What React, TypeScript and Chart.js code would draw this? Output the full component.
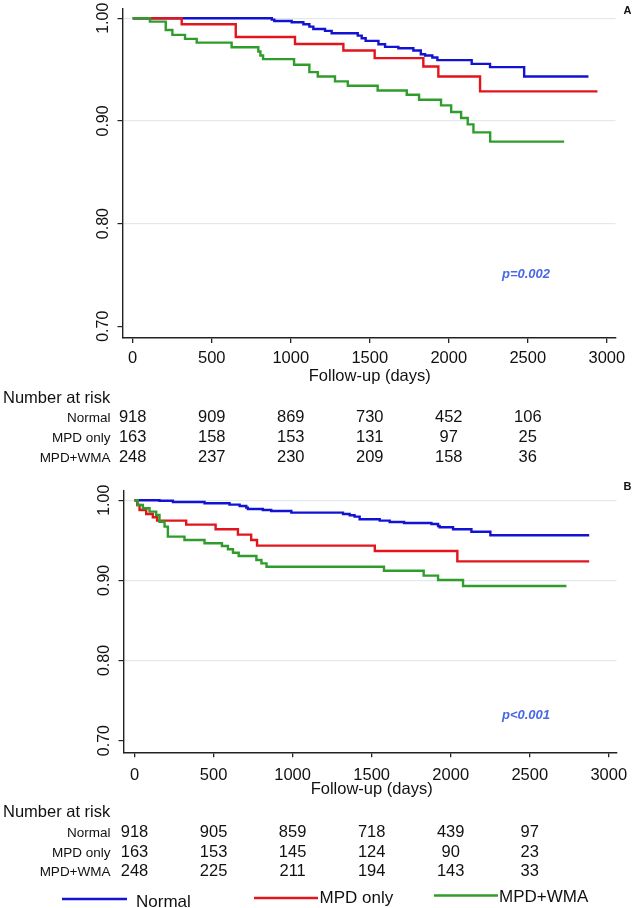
import React, { useEffect, useRef } from 'react';
import { Chart, registerables } from 'chart.js';

Chart.register(...registerables);

// ---------------- data ----------------
const xTicks = [0, 500, 1000, 1500, 2000, 2500, 3000];
const yTicks = [0.7, 0.8, 0.9, 1.0];
const yTickLabels = ['0.70', '0.80', '0.90', '1.00'];
const groups = ['Normal', 'MPD only', 'MPD+WMA'];
const riskTimes = [0, 500, 1000, 1500, 2000, 2500];

// Panel A
const topNormalDays = [0, 880, 896, 1006, 1080, 1118, 1143, 1217, 1259, 1424, 1449, 1474, 1555, 1597, 1681, 1776, 1823, 1850, 1896, 1928, 2145, 2261, 2477, 2884];
const topNormalSurv = [1, 0.9987, 0.9974, 0.9961, 0.9941, 0.9919, 0.9896, 0.9877, 0.9854, 0.9831, 0.9806, 0.978, 0.9747, 0.9721, 0.9708, 0.9686, 0.965, 0.9637, 0.9618, 0.9592, 0.9556, 0.9524, 0.9433, 0.9433];
const topMpdDays = [0, 310, 652, 1027, 1333, 1531, 1839, 1934, 2198, 2941];
const topMpdSurv = [1, 0.9941, 0.9818, 0.975, 0.9686, 0.9612, 0.953, 0.9433, 0.9288, 0.9288];
const topWmaDays = [0, 109, 209, 251, 331, 405, 626, 795, 808, 825, 1021, 1118, 1171, 1280, 1361, 1550, 1734, 1812, 1951, 2015, 2078, 2120, 2156, 2262, 2730];
const topWmaSurv = [1, 0.9967, 0.9886, 0.9838, 0.9799, 0.9763, 0.9718, 0.9676, 0.9637, 0.9602, 0.9547, 0.9475, 0.9433, 0.9385, 0.9343, 0.9297, 0.9255, 0.9207, 0.9152, 0.9087, 0.9029, 0.8967, 0.8889, 0.8799, 0.8799];
const topRiskNormal = [918, 909, 869, 730, 452, 106];
const topRiskMpd = [163, 158, 153, 131, 97, 25];
const topRiskWma = [248, 237, 230, 209, 158, 36];

// Panel B
const botNormalDays = [0, 158, 243, 443, 601, 665, 707, 717, 812, 865, 992, 1319, 1361, 1392, 1424, 1551, 1614, 1705, 1878, 1920, 1930, 2015, 2131, 2251, 2876];
const botNormalSurv = [1, 0.9995, 0.9979, 0.9963, 0.9946, 0.9929, 0.9908, 0.9891, 0.9879, 0.9866, 0.9846, 0.9829, 0.9813, 0.9796, 0.9763, 0.9746, 0.9729, 0.9717, 0.9704, 0.9679, 0.9663, 0.9638, 0.9608, 0.9563, 0.9563];
const botMpdDays = [0, 17, 32, 74, 116, 143, 327, 513, 654, 738, 775, 1520, 2042, 2876];
const botMpdSurv = [1, 0.9941, 0.9879, 0.9829, 0.9788, 0.9746, 0.9696, 0.9638, 0.9571, 0.9504, 0.9434, 0.9367, 0.9238, 0.9238];
const botWmaDays = [0, 20, 53, 95, 137, 158, 190, 211, 316, 443, 553, 591, 623, 659, 771, 803, 835, 1578, 1829, 1920, 2078, 2732];
const botWmaSurv = [1, 0.9941, 0.99, 0.9858, 0.9817, 0.9733, 0.9671, 0.9546, 0.9504, 0.9463, 0.9429, 0.9388, 0.9346, 0.9305, 0.9255, 0.9213, 0.9171, 0.9121, 0.9059, 0.9005, 0.893, 0.893];
const botRiskNormal = [918, 905, 859, 718, 439, 97];
const botRiskMpd = [163, 153, 145, 124, 90, 23];
const botRiskWma = [248, 225, 211, 194, 143, 33];

// ---------------- styles / layout ----------------
const W = 635;
const H = 908;
const FONT = '"Liberation Sans", Arial, Helvetica, sans-serif';
const COLORS = ['#1212d2', '#e2141c', '#2f9d2b'];
const AXIS = '#222222';
const GRID = '#e1e9ee';
const TEXT = '#111111';
const PCOLOR = '#4767e4';

type Panel = {
  days: number[][];
  surv: number[][];
  risk: number[][];
  letter: string;
  pText: string;
  area: { left: number; right: number; top: number; bottom: number };
  xRange: [number, number];
  yRange: [number, number];
  tickBase: number;
  titleBase: number;
  narBase: number;
  rowBase: number[];
  pBase: number;
  letterBase: number;
  legend: boolean;
};

const panels: Panel[] = [
  {
    days: [topNormalDays, topMpdDays, topWmaDays],
    surv: [topNormalSurv, topMpdSurv, topWmaSurv],
    risk: [topRiskNormal, topRiskMpd, topRiskWma],
    letter: 'A',
    pText: 'p=0.002',
    area: { left: 122.5, right: 615.5, top: 8.3, bottom: 338 },
    xRange: [-64.6, 3055],
    yRange: [0.6886, 1.0097],
    tickBase: 362.5,
    titleBase: 380.5,
    narBase: 403.3,
    rowBase: [422.4, 442.4, 461.7],
    pBase: 277.5,
    letterBase: 13.6,
    legend: false,
  },
  {
    days: [botNormalDays, botMpdDays, botWmaDays],
    surv: [botNormalSurv, botMpdSurv, botWmaSurv],
    risk: [botRiskNormal, botRiskMpd, botRiskWma],
    letter: 'B',
    pText: 'p<0.001',
    area: { left: 123.5, right: 616.5, top: 491, bottom: 752.3 },
    xRange: [-69.6, 3048.7],
    yRange: [0.6854, 1.0116],
    tickBase: 780,
    titleBase: 794,
    narBase: 816.7,
    rowBase: [836.7, 856.7, 876],
    pBase: 719,
    letterBase: 490,
    legend: true,
  },
];

function makeOverlay(p: Panel) {
  return {
    id: 'kmOverlay' + p.letter,
    afterDraw(chart: any) {
      const ctx = chart.ctx as CanvasRenderingContext2D;
      const x = chart.scales.x;
      const y = chart.scales.y;
      ctx.save();
      ctx.fillStyle = TEXT;
      // rotated y tick labels
      ctx.font = `16px ${FONT}`;
      ctx.textAlign = 'center';
      ctx.textBaseline = 'alphabetic';
      yTicks.forEach((v, i) => {
        const py = y.getPixelForValue(v);
        ctx.save();
        ctx.translate(p.area.left - 14.2, py);
        ctx.rotate(-Math.PI / 2);
        ctx.fillText(yTickLabels[i], 0, 0);
        ctx.restore();
      });
      // x tick labels
      ctx.font = `16.5px ${FONT}`;
      ctx.textAlign = 'center';
      xTicks.forEach((v) => {
        ctx.fillText(String(v), x.getPixelForValue(v), p.tickBase);
      });
      // axis title
      ctx.fillText('Follow-up (days)', x.getPixelForValue(1500), p.titleBase);
      // number at risk
      ctx.textAlign = 'left';
      ctx.fillText('Number at risk', 3, p.narBase);
      groups.forEach((g, i) => {
        ctx.font = `13.5px ${FONT}`;
        ctx.textAlign = 'right';
        ctx.fillText(g, 110.5, p.rowBase[i]);
        ctx.font = `16.5px ${FONT}`;
        ctx.textAlign = 'center';
        riskTimes.forEach((t, j) => {
          ctx.fillText(String(p.risk[i][j]), x.getPixelForValue(t), p.rowBase[i]);
        });
      });
      // p value
      ctx.font = `italic bold 13px ${FONT}`;
      ctx.fillStyle = PCOLOR;
      ctx.textAlign = 'center';
      ctx.fillText(p.pText, 526, p.pBase);
      // panel letter
      ctx.font = `bold 11px ${FONT}`;
      ctx.fillStyle = TEXT;
      ctx.fillText(p.letter, 627.5, p.letterBase);
      // legend
      if (p.legend) {
        const items = [
          { x0: 62, x1: 127, ly: 899, tx: 136, tb: 906.5 },
          { x0: 254, x1: 318, ly: 898, tx: 319.5, tb: 903 },
          { x0: 434, x1: 498, ly: 895.5, tx: 499, tb: 901.5 },
        ];
        items.forEach((it, i) => {
          ctx.strokeStyle = COLORS[i];
          ctx.lineWidth = 2.5;
          ctx.beginPath();
          ctx.moveTo(it.x0, it.ly);
          ctx.lineTo(it.x1, it.ly);
          ctx.stroke();
          ctx.font = `17px ${FONT}`;
          ctx.fillStyle = TEXT;
          ctx.textAlign = 'left';
          ctx.fillText(groups[i], it.tx, it.tb);
        });
      }
      ctx.restore();
    },
  };
}

function buildConfig(p: Panel): any {
  return {
    type: 'line',
    data: {
      datasets: groups.map((g, i) => ({
        label: g,
        data: p.days[i].map((d, k) => ({ x: d, y: p.surv[i][k] })),
        borderColor: COLORS[i],
        backgroundColor: COLORS[i],
        borderWidth: 2.4,
        pointRadius: 0,
        stepped: true,
        fill: false,
        tension: 0,
        order: 3 - i,
      })),
    },
    options: {
      animation: false,
      responsive: false,
      maintainAspectRatio: false,
      devicePixelRatio: 1,
      layout: {
        padding: { left: 0, top: p.area.top, right: W - p.area.right, bottom: 0 },
      },
      plugins: { legend: { display: false }, tooltip: { enabled: false } },
      events: [],
      scales: {
        x: {
          type: 'linear',
          min: p.xRange[0],
          max: p.xRange[1],
          afterBuildTicks: (s: any) => {
            s.ticks = xTicks.map((v) => ({ value: v }));
          },
          afterFit: (s: any) => {
            s.height = H - p.area.bottom;
          },
          ticks: { display: false },
          grid: { drawOnChartArea: false, drawTicks: true, tickLength: 5, tickColor: AXIS, lineWidth: 1.3 },
          border: { display: true, color: AXIS, width: 1.4 },
        },
        y: {
          type: 'linear',
          min: p.yRange[0],
          max: p.yRange[1],
          afterBuildTicks: (s: any) => {
            s.ticks = yTicks.map((v) => ({ value: v }));
          },
          afterFit: (s: any) => {
            s.width = p.area.left;
          },
          ticks: { display: false },
          grid: {
            drawOnChartArea: true,
            drawTicks: true,
            tickLength: 5,
            tickColor: AXIS,
            lineWidth: 1.2,
            color: (c: any) => (c.tick && c.tick.value < 0.75 ? 'rgba(0,0,0,0)' : GRID),
          },
          border: { display: true, color: AXIS, width: 1.4 },
        },
      },
    },
    plugins: [makeOverlay(p)],
  };
}

function KMCanvas({ panel }: { panel: Panel }) {
  const ref = useRef<HTMLCanvasElement | null>(null);
  useEffect(() => {
    if (!ref.current) return;
    const chart = new Chart(ref.current, buildConfig(panel));
    return () => chart.destroy();
  }, [panel]);
  return (
    <canvas
      ref={ref}
      width={W}
      height={H}
      style={{ position: 'absolute', left: 0, top: 0, width: W, height: H }}
    />
  );
}

export default function App() {
  return (
    <div style={{ position: 'absolute', left: 0, top: 0, width: W, height: H, background: '#ffffff', overflow: 'hidden' }}>
      <KMCanvas panel={panels[0]} />
      <KMCanvas panel={panels[1]} />
    </div>
  );
}
